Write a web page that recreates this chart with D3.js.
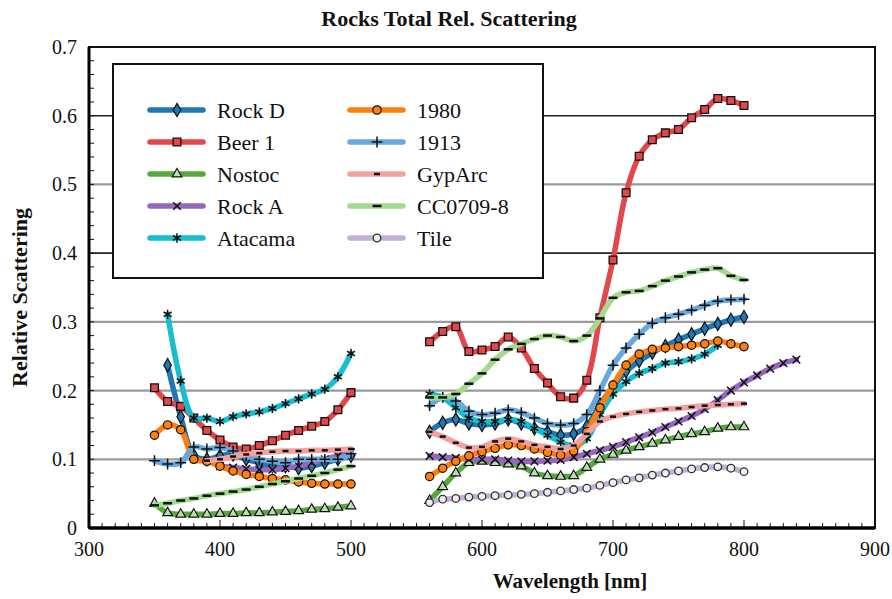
<!DOCTYPE html>
<html>
<head>
<meta charset="utf-8">
<script src="https://cdn.jsdelivr.net/npm/d3@7"></script>
<style>
  body { margin: 0; background: #fff; }
  svg { display: block; }
  text { font-family: "Liberation Serif", "Times New Roman", serif; fill: #111; }
</style>
</head>
<body>
<div id="chart"></div>
<script>
const width = 892;
const height = 599;
const margin = { top: 47, right: 17, bottom: 71, left: 89 };

// wavelengths (nm)
const wlUV = [350, 360, 370, 380, 390, 400, 410, 420, 430, 440, 450, 460, 470, 480, 490, 500];
const wlVis = [560, 570, 580, 590, 600, 610, 620, 630, 640, 650, 660, 670, 680, 690, 700,
  710, 720, 730, 740, 750, 760, 770, 780, 790, 800];
const wlVisLong = wlVis.concat([810, 820, 830, 840]);

// relative scattering
const rockD_uv = [null, 0.237, 0.162, 0.106, 0.1, 0.105, 0.107, 0.1, 0.095, 0.09, 0.09, 0.087, 0.09, 0.095, 0.1, 0.105];
const rockD_vis = [0.14, 0.153, 0.158, 0.152, 0.15, 0.152, 0.158, 0.152, 0.145, 0.14, 0.135, 0.137, 0.148, 0.18, 0.205,
  0.228, 0.243, 0.255, 0.265, 0.274, 0.282, 0.29, 0.297, 0.303, 0.307];

const beer1_uv = [0.204, 0.184, 0.177, 0.16, 0.142, 0.128, 0.118, 0.115, 0.12, 0.127, 0.135, 0.142, 0.148, 0.155, 0.172, 0.197];
const beer1_vis = [0.271, 0.286, 0.293, 0.257, 0.259, 0.264, 0.278, 0.262, 0.232, 0.211, 0.191, 0.189, 0.215, 0.306, 0.39,
  0.488, 0.541, 0.565, 0.575, 0.58, 0.597, 0.609, 0.625, 0.622, 0.615];

const nostoc_uv = [0.036, 0.022, 0.02, 0.02, 0.02, 0.021, 0.021, 0.022, 0.022, 0.023, 0.024, 0.025, 0.027, 0.028, 0.03, 0.032];
const nostoc_vis = [0.04, 0.06, 0.08, 0.095, 0.097, 0.095, 0.093, 0.09, 0.08, 0.076, 0.075, 0.076, 0.088, 0.1, 0.107,
  0.113, 0.118, 0.123, 0.128, 0.133, 0.137, 0.14, 0.145, 0.147, 0.147];

const rockA_uv = [null, null, null, null, null, 0.09, 0.088, 0.086, 0.085, 0.085, 0.087, 0.09, 0.095, 0.1, 0.105, 0.11];
const rockA_vis = [0.105, 0.103, 0.102, 0.1, 0.1, 0.1, 0.098, 0.097, 0.097, 0.098, 0.099, 0.103, 0.108, 0.113, 0.118,
  0.125, 0.132, 0.139, 0.147, 0.155, 0.163, 0.173, 0.186, 0.2, 0.212, 0.222, 0.232, 0.24, 0.245];

const atacama_uv = [null, 0.311, 0.214, 0.16, 0.16, 0.155, 0.162, 0.166, 0.169, 0.174, 0.181, 0.188, 0.195, 0.202, 0.22, 0.254];
const atacama_vis = [0.195, 0.19, 0.175, 0.16, 0.155, 0.155, 0.158, 0.155, 0.145, 0.135, 0.125, 0.12, 0.13, 0.165, 0.195,
  0.213, 0.225, 0.232, 0.24, 0.242, 0.246, 0.253, 0.266, null, null];

const s1980_uv = [0.135, 0.15, 0.143, 0.1, 0.097, 0.09, 0.083, 0.078, 0.075, 0.072, 0.07, 0.067, 0.065, 0.064, 0.064, 0.064];
const s1980_vis = [0.075, 0.087, 0.097, 0.105, 0.111, 0.116, 0.121, 0.12, 0.115, 0.11, 0.106, 0.112, 0.14, 0.175, 0.208,
  0.237, 0.253, 0.26, 0.262, 0.264, 0.266, 0.268, 0.272, 0.268, 0.264];

const s1913_uv = [0.098, 0.093, 0.095, 0.118, 0.115, 0.117, 0.112, 0.105, 0.1, 0.097, 0.095, 0.1, 0.1, 0.1, 0.1, 0.108];
const s1913_vis = [0.178, 0.19, 0.185, 0.17, 0.165, 0.167, 0.172, 0.168, 0.16, 0.152, 0.15, 0.152, 0.165, 0.2, 0.237,
  0.262, 0.282, 0.298, 0.306, 0.311, 0.317, 0.324, 0.33, 0.332, 0.333];

const gypArc_uv = [null, null, null, null, 0.098, 0.1, 0.104, 0.107, 0.109, 0.111, 0.112, 0.112, 0.113, 0.113, 0.114, 0.115];
const gypArc_vis = [0.14, 0.133, 0.124, 0.117, 0.118, 0.126, 0.13, 0.126, 0.121, 0.118, 0.115, 0.12, 0.137, 0.155, 0.162,
  0.166, 0.169, 0.171, 0.173, 0.174, 0.176, 0.178, 0.179, 0.18, 0.181];

const cc0709_uv = [0.033, 0.036, 0.04, 0.043, 0.047, 0.05, 0.053, 0.056, 0.06, 0.064, 0.068, 0.072, 0.076, 0.08, 0.085, 0.09];
const cc0709_vis = [0.19, 0.19, 0.195, 0.21, 0.225, 0.245, 0.26, 0.268, 0.275, 0.28, 0.278, 0.272, 0.28, 0.305, 0.335,
  0.343, 0.345, 0.352, 0.36, 0.366, 0.372, 0.376, 0.378, 0.367, 0.361];

const tile_vis = [0.037, 0.042, 0.043, 0.045, 0.046, 0.047, 0.048, 0.049, 0.05, 0.052, 0.054, 0.056, 0.058, 0.062, 0.066,
  0.07, 0.073, 0.077, 0.08, 0.083, 0.086, 0.088, 0.089, 0.087, 0.082];

const seriesNames = ["Rock D", "Beer 1", "Nostoc", "Rock A", "Atacama", "1980", "1913", "GypArc", "CC0709-8", "Tile"];
const seriesColors = ["#1f77b4", "#e2474b", "#59a83f", "#9467bd", "#17becf", "#ff7f0e", "#68a8dc", "#f4a09e", "#a3da8f", "#c3b0d8"];
const seriesMarkers = ["diamond", "square", "triangle", "times", "asterisk", "circle", "plus", "dash", "longdash", "ring"];

const xTicks = [300, 400, 500, 600, 700, 800, 900];
const yTicks = [0, 0.1, 0.2, 0.3, 0.4, 0.5, 0.6, 0.7];

function pairs(wl, vals) {
  return wl.map((w, i) => ({ x: w, y: vals[i] })).filter((d) => d.y != null);
}

const series = [
  { segs: [pairs(wlUV, rockD_uv), pairs(wlVis, rockD_vis)] },
  { segs: [pairs(wlUV, beer1_uv), pairs(wlVis, beer1_vis)] },
  { segs: [pairs(wlUV, nostoc_uv), pairs(wlVis, nostoc_vis)] },
  { segs: [pairs(wlUV, rockA_uv), pairs(wlVisLong, rockA_vis)] },
  { segs: [pairs(wlUV, atacama_uv), pairs(wlVis, atacama_vis)] },
  { segs: [pairs(wlUV, s1980_uv), pairs(wlVis, s1980_vis)] },
  { segs: [pairs(wlUV, s1913_uv), pairs(wlVis, s1913_vis)] },
  { segs: [pairs(wlUV, gypArc_uv), pairs(wlVis, gypArc_vis)] },
  { segs: [pairs(wlUV, cc0709_uv), pairs(wlVis, cc0709_vis)] },
  { segs: [pairs(wlVis, tile_vis)] },
].map((s, i) => ({ ...s, name: seriesNames[i], color: seriesColors[i], marker: seriesMarkers[i] }));

const innerW = width - margin.left - margin.right;
const innerH = height - margin.top - margin.bottom;

const svg = d3
  .select("#chart")
  .append("svg")
  .attr("width", width)
  .attr("height", height);

const g = svg.append("g").attr("transform", `translate(${margin.left},${margin.top})`);

const x = d3.scaleLinear().domain([300, 900]).range([0, innerW]);
const y = d3.scaleLinear().domain([0, 0.7]).range([innerH, 0]);

// gridlines (0.4 and 0.6 come out darker in the original)
g.selectAll(".grid")
  .data(yTicks.filter((t) => t > 0 && t < 0.7))
  .enter()
  .append("line")
  .attr("x1", 0)
  .attr("x2", innerW)
  .attr("y1", (d) => y(d))
  .attr("y2", (d) => y(d))
  .attr("stroke", (d) => (Math.round(d * 10) % 2 === 0 && d > 0.35 ? "#222" : "#9a9a9a"))
  .attr("stroke-width", (d) => (Math.round(d * 10) % 2 === 0 && d > 0.35 ? 1.6 : 2.2));

// marker drawing
function drawMarker(sel, type, color) {
  const sym = (t, size) => d3.symbol().type(t).size(size)();
  if (type === "diamond") {
    sel.append("path").attr("d", sym(d3.symbolDiamond, 50)).attr("fill", color).attr("stroke", "#111").attr("stroke-width", 1.2);
  } else if (type === "square") {
    sel.append("path").attr("d", sym(d3.symbolSquare, 60)).attr("fill", color).attr("stroke", "#111").attr("stroke-width", 1.3);
  } else if (type === "triangle") {
    sel.append("path").attr("d", sym(d3.symbolTriangle, 40)).attr("fill", "#fff").attr("fill-opacity", 0.6).attr("stroke", "#111").attr("stroke-width", 1.2);
  } else if (type === "times") {
    sel.append("path").attr("d", sym(d3.symbolTimes, 40)).attr("fill", "none").attr("stroke", "#111").attr("stroke-width", 1.5);
  } else if (type === "asterisk") {
    sel.append("path").attr("d", sym(d3.symbolAsterisk, 60)).attr("fill", "none").attr("stroke", "#111").attr("stroke-width", 1.5);
  } else if (type === "circle") {
    sel.append("path").attr("d", sym(d3.symbolCircle, 55)).attr("fill", color).attr("stroke", "#111").attr("stroke-width", 1.2);
  } else if (type === "plus") {
    sel.append("path").attr("d", sym(d3.symbolPlus, 40)).attr("fill", "none").attr("stroke", "#111").attr("stroke-width", 1.5);
  } else if (type === "dash") {
    sel.append("path").attr("d", "M-3,0H3").attr("stroke", "#111").attr("stroke-width", 2.5);
  } else if (type === "longdash") {
    sel.append("path").attr("d", "M-4.5,0H4.5").attr("stroke", "#111").attr("stroke-width", 2.5);
  } else if (type === "ring") {
    sel.append("path").attr("d", sym(d3.symbolCircle, 45)).attr("fill", "#eee").attr("stroke", "#333").attr("stroke-width", 1.3);
  }
}

const line = d3
  .line()
  .x((d) => x(d.x))
  .y((d) => y(d.y))
  .curve(d3.curveCatmullRom);

// series
series.forEach((s) => {
  const sg = g.append("g");
  s.segs.forEach((seg) => {
    sg.append("path")
      .datum(seg)
      .attr("fill", "none")
      .attr("stroke", s.color)
      .attr("stroke-width", 5.5)
      .attr("stroke-linejoin", "round")
      .attr("stroke-linecap", "round")
      .attr("d", line);
  });
  s.segs.forEach((seg) => {
    sg.selectAll(null)
      .data(seg)
      .enter()
      .append("g")
      .attr("transform", (d) => `translate(${x(d.x)},${y(d.y)})`)
      .each(function () {
        drawMarker(d3.select(this), s.marker, s.color);
      });
  });
});

// axes with inside ticks
const xMinor = d3.range(300, 901, 10);
const yMinor = d3.range(0, 0.7001, 0.02);

g.append("g")
  .selectAll("line")
  .data(xMinor)
  .enter()
  .append("line")
  .attr("x1", (d) => x(d))
  .attr("x2", (d) => x(d))
  .attr("y1", innerH)
  .attr("y2", (d) => innerH - (d % 100 === 0 ? 8 : 5))
  .attr("stroke", "#111")
  .attr("stroke-width", 1);

g.append("g")
  .selectAll("line")
  .data(yMinor)
  .enter()
  .append("line")
  .attr("x1", 0)
  .attr("x2", 5)
  .attr("y1", (d) => y(d))
  .attr("y2", (d) => y(d))
  .attr("stroke", "#111")
  .attr("stroke-width", 1);

// frame
g.append("rect")
  .attr("width", innerW)
  .attr("height", innerH)
  .attr("fill", "none")
  .attr("stroke", "#111")
  .attr("stroke-width", 2);

g.append("line").attr("x1", 0).attr("x2", innerW).attr("y1", innerH).attr("y2", innerH)
  .attr("stroke", "#000").attr("stroke-width", 3.5);
g.append("line").attr("x1", 0).attr("x2", 0).attr("y1", 0).attr("y2", innerH)
  .attr("stroke", "#000").attr("stroke-width", 3);

// tick labels
g.append("g")
  .selectAll("text")
  .data(xTicks)
  .enter()
  .append("text")
  .attr("x", (d) => x(d))
  .attr("y", innerH + 28)
  .attr("text-anchor", "middle")
  .style("font-size", "20px")
  .text((d) => d);

g.append("g")
  .selectAll("text")
  .data(yTicks)
  .enter()
  .append("text")
  .attr("x", -12)
  .attr("y", (d) => y(d))
  .attr("dy", "0.35em")
  .attr("text-anchor", "end")
  .style("font-size", "20px")
  .text((d) => (d === 0 ? "0" : d.toFixed(1)));

// title and axis titles
svg.append("text")
  .attr("x", 449)
  .attr("y", 26)
  .attr("text-anchor", "middle")
  .style("font-size", "22px")
  .style("font-weight", "bold")
  .text("Rocks Total Rel. Scattering");

svg.append("text")
  .attr("x", margin.left + innerW / 2 + 88)
  .attr("y", 588)
  .attr("text-anchor", "middle")
  .style("font-size", "21px")
  .style("font-weight", "bold")
  .text("Wavelength [nm]");

svg.append("text")
  .attr("transform", `translate(27,${margin.top + innerH / 2 + 10}) rotate(-90)`)
  .attr("text-anchor", "middle")
  .style("font-size", "22px")
  .style("font-weight", "bold")
  .text("Relative Scattering");

// legend
const legend = svg.append("g").attr("transform", "translate(113,64)");
legend.append("rect")
  .attr("width", 430)
  .attr("height", 214)
  .attr("fill", "#fff")
  .attr("stroke", "#111")
  .attr("stroke-width", 2);

series.forEach((s, i) => {
  const col = Math.floor(i / 5);
  const row = i % 5;
  const lg = legend.append("g").attr("transform", `translate(${37 + col * 200},${46 + row * 32})`);
  lg.append("line")
    .attr("x1", 0)
    .attr("x2", 53)
    .attr("stroke", s.color)
    .attr("stroke-width", 5.5)
    .attr("stroke-linecap", "round");
  drawMarker(lg.append("g").attr("transform", "translate(27,0)"), s.marker, s.color);
  lg.append("text")
    .attr("x", 67)
    .attr("dy", "0.35em")
    .style("font-size", "22px")
    .text(s.name);
});
</script>
</body>
</html>
